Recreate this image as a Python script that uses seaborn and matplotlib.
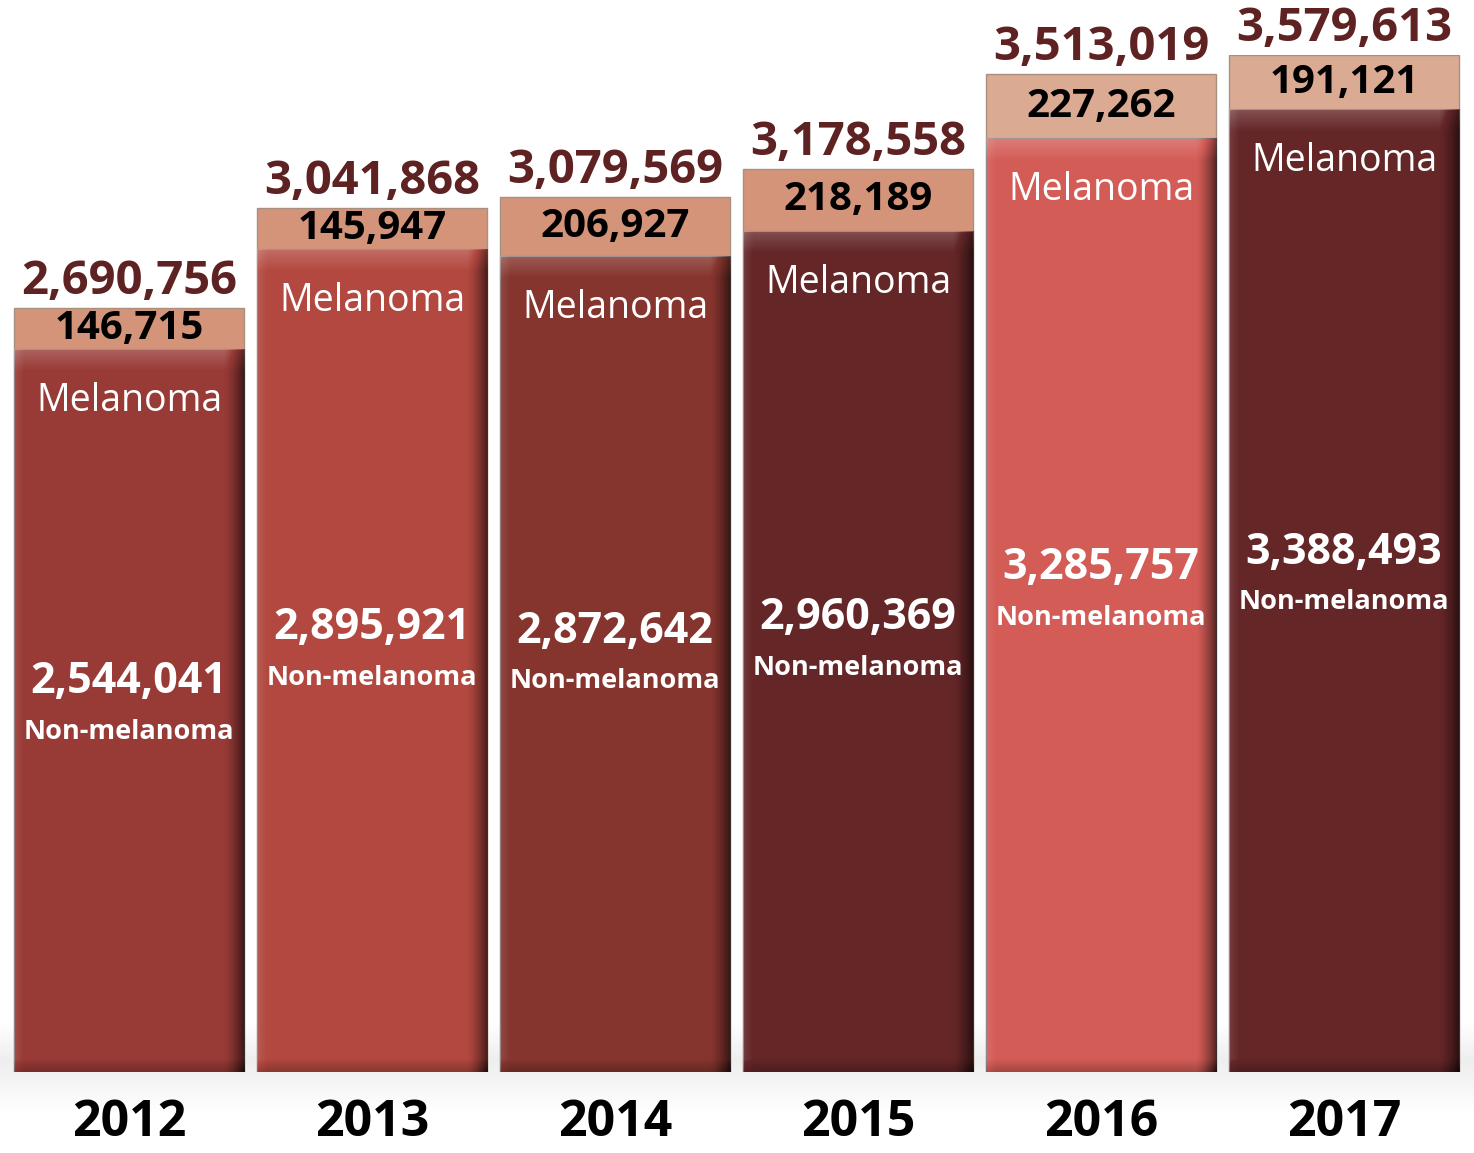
import numpy as np
import pandas as pd
import matplotlib
matplotlib.use("Agg")
import matplotlib.pyplot as plt
import seaborn as sns

# ---- data ----
years = ["2012", "2013", "2014", "2015", "2016", "2017"]
non_melanoma = [2544041, 2895921, 2872642, 2960369, 3285757, 3388493]
melanoma = [146715, 145947, 206927, 218189, 227262, 191121]
totals = [2690756, 3041868, 3079569, 3178558, 3513019, 3579613]

bar_colors = ["#983a36", "#b2483f", "#86352e", "#652628", "#d45c57", "#652628"]
mel_colors = ["#d4947a", "#d4947a", "#d4947a", "#d4947a", "#dbaa93", "#dbaa93"]
total_color = "#5e2222"

df = pd.DataFrame({"year": years, "non": non_melanoma, "mel": melanoma, "total": totals})

sns.set_theme(style="white")
plt.rcParams["font.family"] = ["Open Sans", "DejaVu Sans"]

W, H = 1474, 1153
fig = plt.figure(figsize=(W / 100, H / 100), dpi=100)
fig.patch.set_facecolor("white")

# soft reflection band behind the bars' base
bg = fig.add_axes([0, 0, 1, 1], zorder=0)
bg.set_xlim(0, W)
bg.set_ylim(H, 0)
bg.axis("off")
ys = np.arange(H)
band = np.ones(H)
up = (ys > 1020) & (ys <= 1060)
band[up] = 1 - 0.07 * (ys[up] - 1020) / 40
dn = (ys > 1060) & (ys < 1115)
band[dn] = 0.93 + 0.07 * (ys[dn] - 1060) / 55
img = np.repeat(band[:, None], 2, axis=1)
bg.imshow(img, cmap="gray", vmin=0, vmax=1, extent=[0, W, H, 0], aspect="auto")

bottom_px, top_px = 1072, 55
ax = fig.add_axes([7.5 / W, 1 - bottom_px / H, 1458 / W, (bottom_px - top_px) / H], zorder=1)
ax.patch.set_alpha(0)

# total bar (melanoma colour), then non-melanoma bar drawn over it
sns.barplot(data=df, x="year", y="total", hue="year", palette=mel_colors, width=0.947,
            saturation=1, legend=False, ax=ax, edgecolor="#a89080", linewidth=1)
sns.barplot(data=df, x="year", y="non", hue="year", palette=bar_colors, width=0.947,
            saturation=1, legend=False, ax=ax, edgecolor="#8a7a78", linewidth=0.8)

ymax = max(totals)
ax.set_ylim(0, ymax)
ax.set_xlim(-0.5, len(years) - 0.5)
ax.set_xlabel("")
ax.set_ylabel("")
ax.set_yticks([])
ax.set_xticks([])
for s in ax.spines.values():
    s.set_visible(False)

px_per_unit = (bottom_px - top_px) / ymax

# bevel shading on the non-melanoma bars
non_patches = ax.patches[len(years):]
for p in non_patches:
    x0 = p.get_x()
    w = p.get_width()
    h = p.get_height()
    hp = max(int(h * px_per_unit), 2)
    wp = 230
    shade = np.zeros((hp, wp))
    xx = np.arange(wp)
    yy = np.arange(hp)
    # right dark edge
    r = xx > wp - 22
    shade[:, r] -= 0.65 * ((xx[r] - (wp - 22)) / 22.0) ** 1.5
    # left light edge
    l = xx < 10
    shade[:, l] += 0.10 * (1 - xx[l] / 10.0)
    # top light bevel
    t = yy < 22
    shade[t, :] += (0.2 * (1 - yy[t] / 22.0))[:, None]
    # bottom dark bevel
    b = yy > hp - 14
    shade[b, :] -= (0.25 * ((yy[b] - (hp - 14)) / 14.0))[:, None]
    rgba = np.zeros((hp, wp, 4))
    pos = shade > 0
    rgba[..., :3] = np.where(pos[..., None], 1.0, 0.0)
    rgba[..., 3] = np.clip(np.abs(shade), 0, 1)
    im = ax.imshow(rgba, extent=[x0, x0 + w, 0, h], aspect="auto", zorder=3,
                   interpolation="bilinear")
    im.set_clip_path(p)
ax.set_xlim(-0.5, len(years) - 0.5)
ax.set_ylim(0, ymax)

pt = 0.72  # points per pixel at 100 dpi
for i, (n, m, t) in enumerate(zip(non_melanoma, melanoma, totals)):
    ax.annotate(f"{t:,}", (i, t), xytext=(0, 14 * pt), textcoords="offset points",
                ha="center", va="baseline", fontsize=34, fontweight="bold",
                color=total_color, zorder=5)
    ax.text(i, n + m / 2, f"{m:,}", ha="center", va="center", fontsize=29,
            fontweight="bold", color="black", zorder=5)
    ax.annotate("Melanoma", (i, n), xytext=(0, -52 * pt), textcoords="offset points",
                ha="center", va="center", fontsize=27, color="white", zorder=5)
    ax.text(i, n * 0.54, f"{n:,}", ha="center", va="center", fontsize=31,
            fontweight="bold", color="white", zorder=5)
    ax.annotate("Non-melanoma", (i, n * 0.54), xytext=(0, -50 * pt),
                textcoords="offset points", ha="center", va="center", fontsize=19.5,
                fontweight="bold", color="white", zorder=5)
    ax.annotate(years[i], (i, 0), xytext=(0, -64 * pt), textcoords="offset points",
                ha="center", va="baseline", fontsize=36, fontweight="bold",
                color="black", zorder=5)

fig.savefig("out.png", dpi=100, facecolor="white")
